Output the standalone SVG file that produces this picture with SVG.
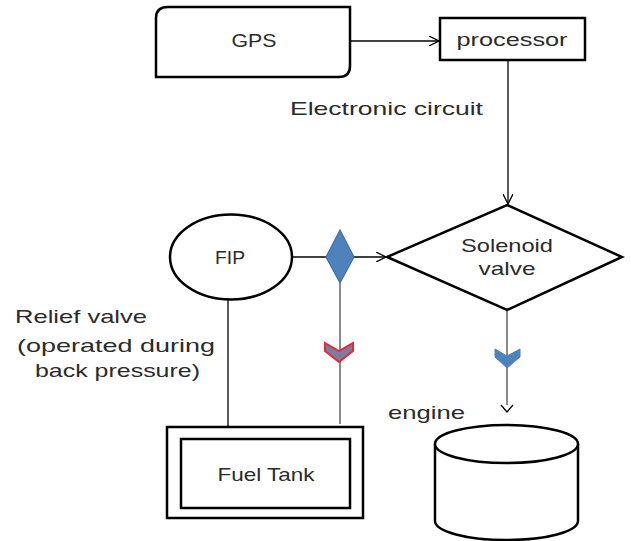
<svg xmlns="http://www.w3.org/2000/svg" width="631" height="541" viewBox="0 0 631 541">
<defs>
<style>
.shape{fill:#fff;stroke:#000;stroke-width:2.5}
.txt{font-family:"Liberation Sans",Arial,sans-serif;fill:#2b2b2b;font-size:19px}
.conn{stroke:#000;stroke-width:1.3;fill:none}
.gray{stroke:#8a8a8a;stroke-width:2;fill:none}
</style>
<marker id="arr" viewBox="0 0 10 10" refX="10" refY="5" markerWidth="10" markerHeight="10" markerUnits="userSpaceOnUse" orient="auto">
<path d="M0,0 L10,5 L0,10" fill="none" stroke="#000" stroke-width="1.3"/>
</marker>
</defs>
<rect width="631" height="541" fill="#fff"/>
<g id="connectors">
<line class="conn" x1="350" y1="41" x2="439" y2="41" marker-end="url(#arr)"/>
<line class="conn" x1="508" y1="61" x2="508" y2="204" marker-end="url(#arr)"/>
<line class="conn" x1="292" y1="257" x2="386" y2="257" marker-end="url(#arr)"/>
<line class="conn" x1="228" y1="299" x2="228" y2="426"/>
<line class="gray" x1="340" y1="283" x2="340" y2="424"/>
<line class="gray" x1="507" y1="311" x2="507" y2="405"/>
<path d="M501,405 L507,412 L513,405" fill="none" stroke="#000" stroke-width="1.3"/>
<polygon points="325,343 339,351 353,343 353,351 339,362 325,351" fill="#7b7d9c" stroke="#e8283a" stroke-width="2"/>
<polygon points="495,349 507,356 520,349 520,357 507,368 495,357" fill="#4f81bd" stroke="#4f81bd" stroke-width="1"/>
</g>
<g id="gps">
<path class="shape" d="M168,7 H350 V66 Q350,77 339,77 H156 V18 Q156,7 168,7 Z"/>
<text class="txt" x="254" y="47" text-anchor="middle" textLength="45" lengthAdjust="spacingAndGlyphs">GPS</text>
</g>
<g id="processor">
<rect class="shape" x="440" y="18" width="145" height="42"/>
<text class="txt" x="512" y="46" text-anchor="middle" textLength="111" lengthAdjust="spacingAndGlyphs">processor</text>
</g>
<g id="electronic-circuit">
<text class="txt" x="290" y="115" textLength="193" lengthAdjust="spacingAndGlyphs">Electronic circuit</text>
</g>
<g id="solenoid">
<polygon class="shape" points="507,205 622,257 507,310 387,257"/>
<text class="txt" x="507" y="252" text-anchor="middle" font-size="17" textLength="92" lengthAdjust="spacingAndGlyphs">Solenoid</text>
<text class="txt" x="507" y="275" text-anchor="middle" font-size="17" textLength="57" lengthAdjust="spacingAndGlyphs">valve</text>
</g>
<g id="fip">
<ellipse class="shape" cx="231" cy="257" rx="61" ry="42.5"/>
<text class="txt" x="230" y="264" text-anchor="middle" font-size="18" textLength="30" lengthAdjust="spacingAndGlyphs">FIP</text>
</g>
<g id="valve">
<polygon points="340,230 354,257 340,283 326,257" fill="#4f81bd" stroke="#3f6fae" stroke-width="1.2"/>
</g>
<g id="relief-valve">
<text class="txt" x="15" y="323" font-size="20" textLength="132" lengthAdjust="spacingAndGlyphs">Relief valve</text>
<text class="txt" x="17" y="352" font-size="20" textLength="198" lengthAdjust="spacingAndGlyphs">(operated during</text>
<text class="txt" x="35" y="377" font-size="20" textLength="165" lengthAdjust="spacingAndGlyphs">back pressure)</text>
</g>
<g id="fuel-tank">
<rect class="shape" x="167" y="427" width="196" height="91"/>
<rect class="shape" x="181" y="439" width="169" height="69"/>
<text class="txt" x="266" y="481" text-anchor="middle" font-size="17" textLength="97" lengthAdjust="spacingAndGlyphs">Fuel Tank</text>
</g>
<g id="engine">
<text class="txt" x="388" y="419" font-size="19" textLength="77" lengthAdjust="spacingAndGlyphs">engine</text>
<path class="shape" d="M435,444 V521 A71.5,19 0 0 0 578,521 V444"/>
<ellipse class="shape" cx="506.5" cy="444" rx="71.5" ry="19"/>
</g>
</svg>
